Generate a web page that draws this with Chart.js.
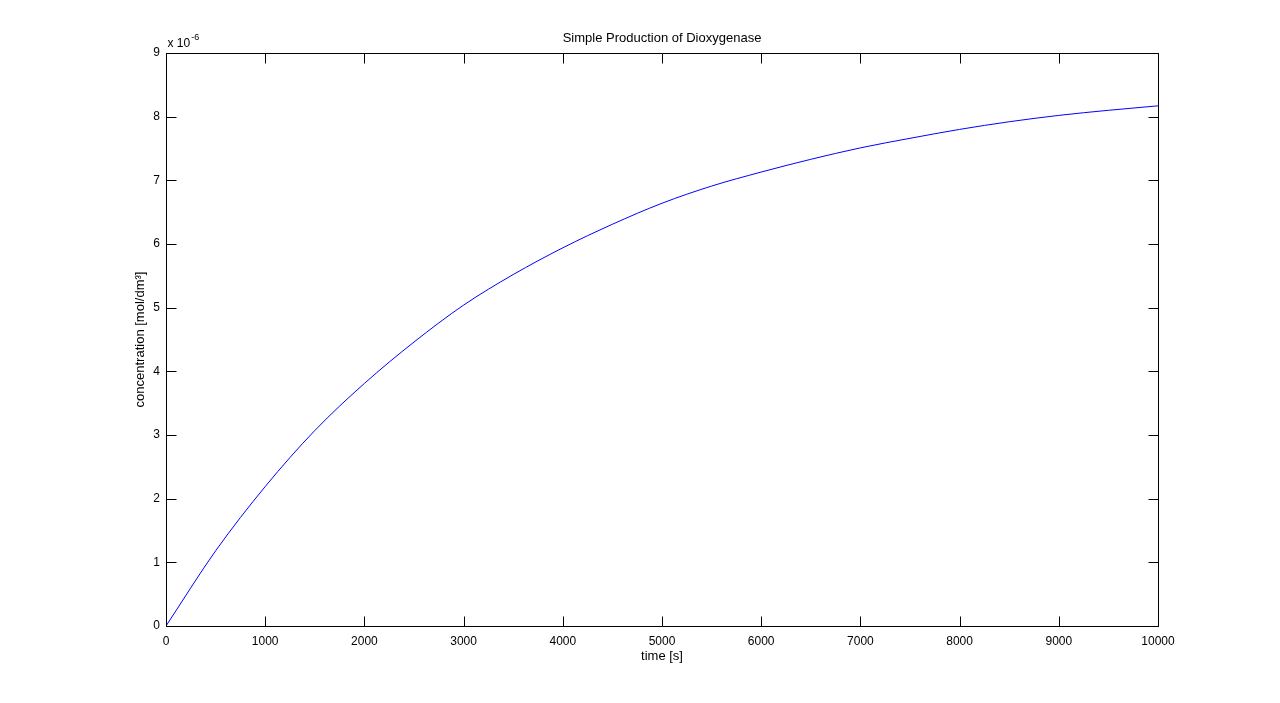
<!DOCTYPE html>
<html>
<head>
<meta charset="utf-8">
<script src="https://cdn.jsdelivr.net/npm/chart.js@4.4.0/dist/chart.umd.min.js"></script>
<style>
  html, body { margin: 0; padding: 0; background: #fff; }
  #wrap { width: 1280px; height: 703px; }
</style>
</head>
<body>
<div id="wrap"><canvas id="myChart" width="1280" height="703"></canvas></div>
<script>
// time [s] and concentration in units of 1e-6 mol/dm3
const times = [0, 500, 1000, 1500, 2000, 2500, 3000, 3500, 4000, 4500, 5000,
    5500, 6000, 6500, 7000, 7500, 8000, 8500, 9000, 9500, 10000];
const concE6 = [0, 1.18, 2.19, 3.07, 3.81, 4.46, 5.04, 5.52, 5.94, 6.31, 6.64,
    6.91, 7.13, 7.33, 7.51, 7.66, 7.80, 7.92, 8.02, 8.10, 8.17];
const xTicks = [0, 1000, 2000, 3000, 4000, 5000, 6000, 7000, 8000, 9000, 10000];
const yTicks = [0, 1, 2, 3, 4, 5, 6, 7, 8, 9];
const chartTitle = 'Simple Production of Dioxygenase';

const FONT = 'Liberation Sans, Arial, Helvetica, sans-serif';

// MATLAB style box with inward ticks on all four sides, title and the "x 10^-6" multiplier
const matlabBox = {
    id: 'matlabBox',
    afterDraw(chart) {
        const ctx = chart.ctx;
        const a = chart.chartArea;
        const xs = chart.scales.x, ys = chart.scales.y;
        const L = Math.round(a.left) + 0.5, R = Math.round(a.right) + 0.5;
        const T = Math.round(a.top) + 0.5, B = Math.round(a.bottom) + 0.5;
        ctx.save();
        ctx.strokeStyle = '#000';
        ctx.lineWidth = 1;
        ctx.beginPath();
        ctx.rect(L, T, R - L, B - T);
        for (let v of xTicks) {
            const px = Math.round(xs.getPixelForValue(v)) + 0.5;
            ctx.moveTo(px, B); ctx.lineTo(px, B - 10);
            ctx.moveTo(px, T); ctx.lineTo(px, T + 10);
        }
        for (let v of yTicks) {
            const py = Math.round(ys.getPixelForValue(v)) + 0.5;
            ctx.moveTo(L, py); ctx.lineTo(L + 10, py);
            ctx.moveTo(R, py); ctx.lineTo(R - 10, py);
        }
        ctx.stroke();

        ctx.fillStyle = '#000';
        // title centred over the plot box
        ctx.font = '13px ' + FONT;
        ctx.textAlign = 'center';
        ctx.textBaseline = 'middle';
        ctx.fillText(chartTitle, (a.left + a.right) / 2, a.top - 15);

        ctx.textBaseline = 'alphabetic';
        ctx.textAlign = 'left';
        ctx.font = '12px ' + FONT;
        ctx.fillText('x 10', L + 1, T - 7);
        const w = ctx.measureText('x 10').width;
        ctx.font = '9px ' + FONT;
        ctx.fillText('-6', L + 2 + w, T - 14);
        ctx.restore();
    }
};

const ctx = document.getElementById('myChart');
// eslint-disable-next-line no-unused-vars
const myChart = new Chart(ctx, {
    type: 'line',
    data: {
        datasets: [{
            data: times.map((t, i) => ({ x: t, y: concE6[i] })),
            borderColor: '#0000ff',
            borderWidth: 1,
            pointRadius: 0,
            fill: false,
            cubicInterpolationMode: 'monotone'
        }]
    },
    options: {
        responsive: false,
        animation: false,
        layout: {
            padding: { left: 0, right: 122, top: 53, bottom: 0 }
        },
        plugins: {
            legend: { display: false },
            tooltip: { enabled: false },
            title: { display: false }
        },
        scales: {
            x: {
                type: 'linear',
                min: 0,
                max: 10000,
                afterBuildTicks(scale) {
                    scale.ticks = xTicks.map(v => ({ value: v }));
                },
                afterFit(scale) { scale.height = 77; },
                grid: { display: false, drawTicks: false },
                border: { display: false },
                ticks: {
                    color: '#000',
                    font: { family: FONT, size: 12 },
                    padding: 8,
                    maxRotation: 0,
                    callback: v => String(v)
                },
                title: {
                    display: true,
                    text: 'time [s]',
                    color: '#000',
                    font: { family: FONT, size: 13 },
                    padding: { top: 39, bottom: 39 }
                }
            },
            y: {
                type: 'linear',
                min: 0,
                max: 9,
                afterBuildTicks(scale) {
                    scale.ticks = yTicks.map(v => ({ value: v }));
                },
                afterFit(scale) { scale.width = 166; },
                grid: { display: false, drawTicks: false },
                border: { display: false },
                ticks: {
                    color: '#000',
                    font: { family: FONT, size: 12 },
                    padding: 6,
                    callback: v => String(v)
                },
                title: {
                    display: true,
                    text: 'concentration [mol/dm³]',
                    color: '#000',
                    font: { family: FONT, size: 13 },
                    padding: { top: 133, bottom: 133 }
                }
            }
        }
    },
    plugins: [matlabBox]
});
</script>
</body>
</html>
